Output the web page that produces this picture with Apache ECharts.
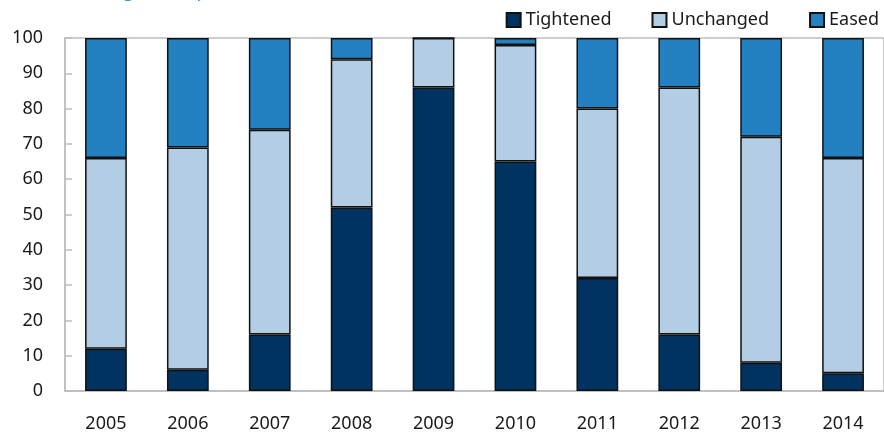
<!DOCTYPE html>
<html>
<head>
<meta charset="utf-8">
<script src="https://cdn.jsdelivr.net/npm/echarts@6/dist/echarts.min.js"></script>
<style>
html,body{margin:0;padding:0;background:#fff;}
#chart{width:884px;height:439px;}
</style>
</head>
<body>
<div id="chart"></div>
<script>
var categories = ['2005','2006','2007','2008','2009','2010','2011','2012','2013','2014'];
var tightened = [12, 6, 16, 52, 86, 65, 32, 16, 8, 5];
var unchanged = [54, 63, 58, 42, 14, 33, 48, 70, 64, 61];
var eased = [34, 31, 26, 6, 0, 2, 20, 14, 28, 34];
var subtitle = '(Percentage of respondents)';

var FONT = 'Noto Sans';
var chart = echarts.init(document.getElementById('chart'), null, {renderer: 'canvas'});
var barStyle = function (c) {
  return {color: c, borderColor: '#111', borderWidth: 1.5};
};
chart.setOption({
  animation: false,
  textStyle: {fontFamily: FONT},
  graphic: [{
    type: 'text',
    style: {x: 43, y: 1, verticalAlign: 'bottom', text: subtitle, fill: '#2a8ac8', font: '18px "Noto Sans"'}
  }],
  legend: {
    right: 0, top: 6,
    itemWidth: 14, itemHeight: 14, itemGap: 40,
    icon: 'rect',
    textStyle: {fontSize: 18, color: '#1a1a1a', fontFamily: FONT},
    data: ['Tightened', 'Unchanged', 'Eased']
  },
  grid: {
    left: 65, right: -7, top: 38, bottom: 48,
    show: true, borderColor: '#bdbdbd', borderWidth: 1.5, backgroundColor: 'transparent'
  },
  xAxis: {
    type: 'category', data: categories,
    axisLine: {lineStyle: {color: '#bdbdbd', width: 1.5}},
    axisTick: {inside: true, length: 7, lineStyle: {color: '#bdbdbd', width: 1.5}},
    axisLabel: {fontSize: 18, color: '#1a1a1a', margin: 24, fontFamily: FONT}
  },
  yAxis: {
    type: 'value', min: 0, max: 100, interval: 10,
    splitLine: {show: false},
    axisLine: {show: true, lineStyle: {color: '#bdbdbd', width: 1.5}},
    axisTick: {show: true, inside: true, length: 7, lineStyle: {color: '#bdbdbd', width: 1.5}},
    axisLabel: {fontSize: 18, color: '#1a1a1a', margin: 22, fontFamily: FONT}
  },
  series: [
    {name: 'Tightened', type: 'bar', stack: 'a', data: tightened, barWidth: '51%', itemStyle: barStyle('#00335f')},
    {name: 'Unchanged', type: 'bar', stack: 'a', data: unchanged, barWidth: '51%', itemStyle: barStyle('#b3cde4')},
    {name: 'Eased', type: 'bar', stack: 'a', data: eased, barWidth: '51%', itemStyle: barStyle('#2381c2')}
  ]
});
</script>
</body>
</html>
